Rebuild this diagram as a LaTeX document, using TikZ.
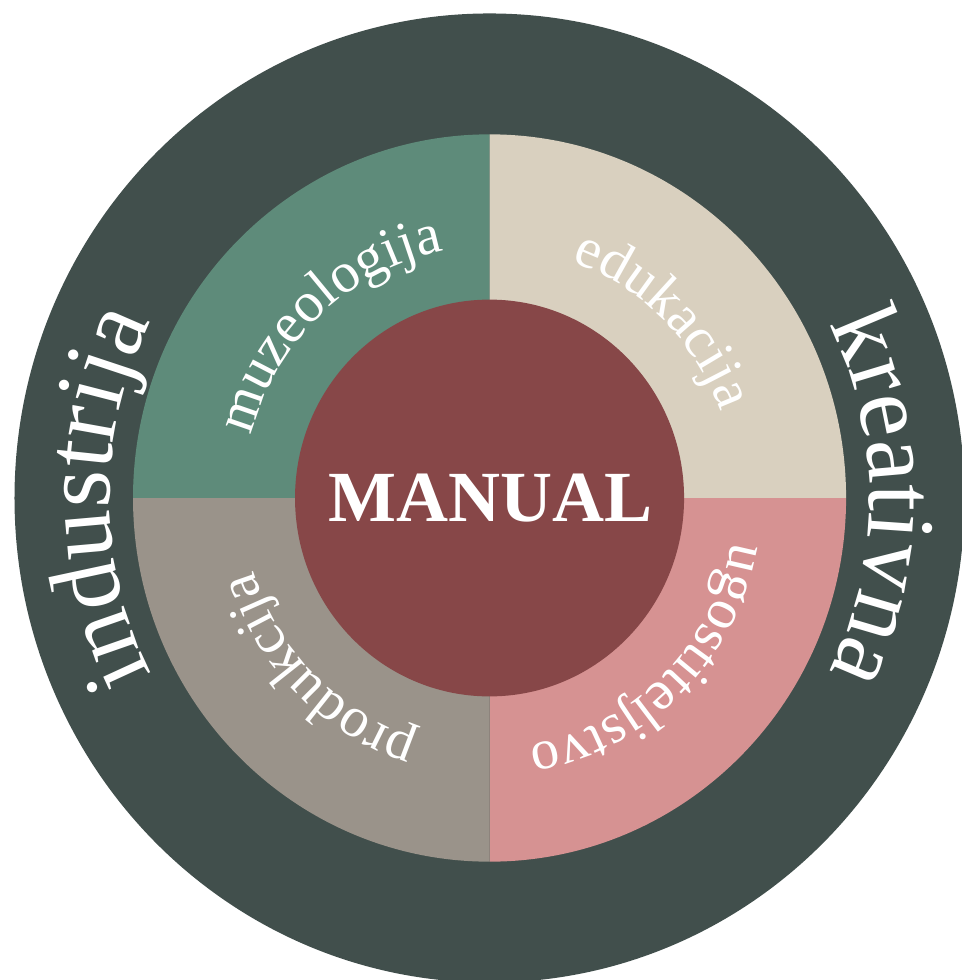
\documentclass[tikz,border=0pt]{standalone}
\usepackage{fontspec}
\setmainfont{Liberation Serif}
\usetikzlibrary{decorations.text}

\definecolor{ringdark}{RGB}{65,79,76}
\definecolor{quadgreen}{RGB}{94,139,122}
\definecolor{quadbeige}{RGB}{217,208,191}
\definecolor{quadgray}{RGB}{154,147,138}
\definecolor{quadpink}{RGB}{214,146,146}
\definecolor{hubred}{RGB}{135,71,72}

\newcommand{\outerlabel}{\fontsize{48.5}{48.5}\selectfont\color{white}}
\newcommand{\innerlabel}{\fontsize{28.5}{28.5}\selectfont\color{white}}

\begin{document}
\begin{tikzpicture}[
        x=0.5pt, y=0.51pt,
        outer text/.style={decorate, decoration={text along path, text align=center, text={|\outerlabel|#1}}},
        inner text/.style={decorate, decoration={text along path, text align=center, text={|\innerlabel|#1}}},
    ]
    \useasboundingbox (-489.5,-472.5) rectangle (471.5,488.2);
    \fill[ringdark] (0,0) circle[radius=475];
    \fill[quadgreen] (0,0) -- (180:356.5) arc[start angle=180, end angle=90, radius=356.5] -- cycle;
    \fill[quadbeige] (0,0) -- (90:356.5) arc[start angle=90, end angle=0, radius=356.5] -- cycle;
    \fill[quadpink] (0,0) -- (0:356.5) arc[start angle=0, end angle=-90, radius=356.5] -- cycle;
    \fill[quadgray] (0,0) -- (270:356.5) arc[start angle=270, end angle=180, radius=356.5] -- cycle;
    \fill[hubred] (0,0) circle[radius=194.5];
    \node[font=\bfseries\fontsize{36}{36}\selectfont, text=white] (manual) at (1,0) {MANUAL};
    \path[outer text=industrija] (260:380) arc[start angle=260, end angle=100, radius=380];
    \path[outer text=kreativna] (80:380) arc[start angle=80, end angle=-80, radius=380];
    \path[inner text=muzeologija] (178:246) arc[start angle=178, end angle=88, radius=246];
    \path[inner text=edukacija] (90.5:246) arc[start angle=90.5, end angle=0.5, radius=246];
    \path[inner text=ugostiteljstvo] (-0.5:246) arc[start angle=-0.5, end angle=-90.5, radius=246];
    \path[inner text=produkcija] (270:246) arc[start angle=270, end angle=180, radius=246];
\end{tikzpicture}
\end{document}
